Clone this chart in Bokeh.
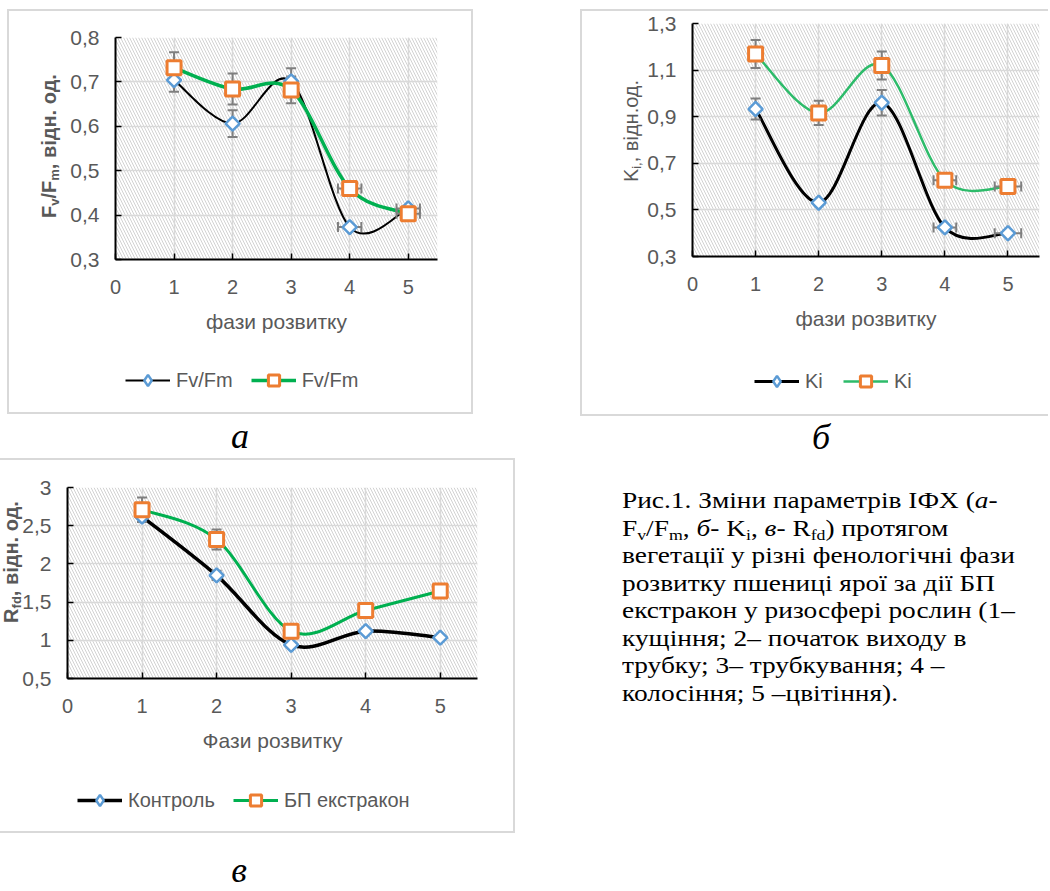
import math
from bokeh.plotting import figure
from bokeh.models import (FixedTicker, Range1d, Legend, LegendItem, GridBox,
                          BoxAnnotation, Div, Spacer, ColumnDataSource)
from bokeh.layouts import column, row
from bokeh.embed import file_html
from bokeh.resources import INLINE

# ---------------- data ----------------
phases = [1, 2, 3, 4, 5]
x_ticks = [0, 1, 2, 3, 4, 5]
x_tick_labels = ["0", "1", "2", "3", "4", "5"]

# panel а : Fv/Fm
a_ctrl = [0.704, 0.606, 0.701, 0.373, 0.415]
a_treat = [0.732, 0.684, 0.682, 0.460, 0.403]
a_ctrl_yerr = [0.026, 0.03, 0.03, 0.0, 0.0]
a_treat_yerr = [0.035, 0.035, 0.03, 0.0, 0.0]
a_ctrl_xerr = [0.0, 0.0, 0.0, 0.2, 0.2]
a_treat_xerr = [0.0, 0.0, 0.0, 0.2, 0.2]
a_yticks = [0.3, 0.4, 0.5, 0.6, 0.7, 0.8]
a_ytick_labels = ["0,3", "0,4", "0,5", "0,6", "0,7", "0,8"]
a_legend = ["Fv/Fm", "Fv/Fm"]
a_xlabel = "фази розвитку"
a_ylabel = "F<s1>v</s1>/F<s1>m</s1>, відн. од."

# panel б : Ki
b_ctrl = [0.933, 0.531, 0.960, 0.425, 0.400]
b_treat = [1.169, 0.916, 1.120, 0.627, 0.600]
b_ctrl_yerr = [0.045, 0.0, 0.055, 0.0, 0.0]
b_treat_yerr = [0.06, 0.052, 0.06, 0.0, 0.0]
b_ctrl_xerr = [0.0, 0.0, 0.0, 0.18, 0.21]
b_treat_xerr = [0.0, 0.0, 0.0, 0.18, 0.21]
b_yticks = [0.3, 0.5, 0.7, 0.9, 1.1, 1.3]
b_ytick_labels = ["0,3", "0,5", "0,7", "0,9", "1,1", "1,3"]
b_legend = ["Ki", "Ki"]
b_xlabel = "фази розвитку"
b_ylabel = "K<s1>i,</s1>, відн.од."

# panel в : Rfd
c_ctrl = [2.62, 1.85, 0.94, 1.12, 1.035]
c_treat = [2.71, 2.32, 1.12, 1.39, 1.645]
c_ctrl_yerr = [0.07, 0.06, 0.0, 0.0, 0.0]
c_treat_yerr = [0.16, 0.13, 0.0, 0.0, 0.0]
c_ctrl_xerr = [0.0, 0.0, 0.0, 0.0, 0.0]
c_treat_xerr = [0.0, 0.0, 0.0, 0.0, 0.0]
c_yticks = [0.5, 1.0, 1.5, 2.0, 2.5, 3.0]
c_ytick_labels = ["0,5", "1", "1,5", "2", "2,5", "3"]
c_legend = ["Контроль", "БП екстракон"]
c_xlabel = "Фази розвитку"
c_ylabel = "R<s1>fd</s1>, відн. од."

caption_lines = [
    "Рис.1. Зміни параметрів ІФХ (<i>а</i>-",
    "F<s1>v</s1>/F<s1>m</s1>, <i>б</i>- K<s1>i</s1>, <i>в</i>- R<s1>fd</s1>) протягом",
    "вегетації у різні фенологічні фази",
    "розвитку пшениці ярої за дії БП",
    "екстракон у ризосфері рослин (1–",
    "кущіння; 2– початок виходу в",
    "трубку; 3– трубкування; 4 –",
    "колосіння; 5 –цвітіння).",
]

# ---------------- helpers ----------------
FONT = "Liberation Sans"
GRAY = "#595959"
GRID = "#d9d9d9"
BLUE = "#5b9bd5"
ORANGE = "#ed7d31"
ERR = "#7f7f7f"
BORDER = "2px solid #d9d9d9"
SUB = '<span style="font-size:65%;vertical-align:-0.25em;line-height:0;">'


def subs(s):
    return s.replace("<s1>", SUB).replace("</s1>", "</span>")


def smooth(xs, ys):
    n = len(xs)
    d = dict(x0=[], y0=[], x1=[], y1=[], cx0=[], cy0=[], cx1=[], cy1=[])
    for i in range(n - 1):
        i0 = max(i - 1, 0)
        i3 = min(i + 2, n - 1)
        d["x0"].append(xs[i]); d["y0"].append(ys[i])
        d["x1"].append(xs[i + 1]); d["y1"].append(ys[i + 1])
        d["cx0"].append(xs[i] + (xs[i + 1] - xs[i0]) / 6)
        d["cy0"].append(ys[i] + (ys[i + 1] - ys[i0]) / 6)
        d["cx1"].append(xs[i + 1] - (xs[i3] - xs[i]) / 6)
        d["cy1"].append(ys[i + 1] - (ys[i3] - ys[i]) / 6)
    return ColumnDataSource(d)


def add_err(p, xs, ys, yerr, xerr):
    vx, vlo, vhi = [], [], []
    hy, hlo, hhi = [], [], []
    for x, y, ey, ex in zip(xs, ys, yerr, xerr):
        if ey > 0:
            vx.append(x); vlo.append(y - ey); vhi.append(y + ey)
        if ex > 0:
            hy.append(y); hlo.append(x - ex); hhi.append(x + ex)
    if vx:
        p.segment(x0=vx, y0=vlo, x1=vx, y1=vhi, line_color=ERR, line_width=2)
        p.scatter(x=vx + vx, y=vlo + vhi, marker="dash", size=10,
                  line_color=ERR, line_width=2)
    if hy:
        p.segment(x0=hlo, y0=hy, x1=hhi, y1=hy, line_color=ERR, line_width=2)
        p.scatter(x=hlo + hhi, y=hy + hy, marker="dash", angle=math.pi / 2,
                  size=10, line_color=ERR, line_width=2)


def draw_series(p, ctrl, treat, lw_ctrl, lw_treat, green):
    lc = p.bezier(x0="x0", y0="y0", x1="x1", y1="y1", cx0="cx0", cy0="cy0",
                  cx1="cx1", cy1="cy1", source=smooth(phases, ctrl),
                  line_color="black", line_width=lw_ctrl)
    lt = p.bezier(x0="x0", y0="y0", x1="x1", y1="y1", cx0="cx0", cy0="cy0",
                  cx1="cx1", cy1="cy1", source=smooth(phases, treat),
                  line_color=green, line_width=lw_treat)
    return lc, lt


def draw_markers(p, ctrl, treat, for_legend=False):
    if for_legend:
        sc = p.scatter(phases, ctrl, marker="diamond", size=10,
                       fill_color="white", line_color=BLUE, line_width=2.5)
    else:
        sc = p.scatter(phases, ctrl, marker="square", angle=math.pi / 4, size=10,
                       fill_color="white", line_color=BLUE, line_width=2.5)
    st = p.scatter(phases, treat, marker="square", size=14,
                   fill_color="white", line_color=ORANGE, line_width=3)
    return sc, st


def ylabel_div(html, w, h, cx, cy, bold):
    st = ("position:absolute;left:%dpx;top:%dpx;transform:translate(-50%%,-50%%) rotate(-90deg);"
          "white-space:nowrap;font-family:'Liberation Sans',sans-serif;font-size:20px;"
          "font-weight:%s;color:#595959;line-height:23px;" % (cx, cy, "bold" if bold else "normal"))
    return Div(text=('<div style="position:relative;width:%dpx;height:%dpx;">'
                     '<div style="%s">%s</div></div>' % (w, h, st, subs(html))),
               width=w, height=h, margin=0)


def make_fig(fw, fh, mb, yrange, yticks, ytick_labels, ctrl, treat,
             cyerr, tyerr, cxerr, txerr, xlabel, lw_ctrl, lw_treat, green, styles):
    p = figure(frame_width=fw, frame_height=fh,
               min_border_left=mb[0], min_border_right=mb[1],
               min_border_top=mb[2], min_border_bottom=mb[3],
               x_range=Range1d(0, 5.5), y_range=Range1d(*yrange),
               output_backend="svg", toolbar_location=None, tools="",
               outline_line_color=None, background_fill_color="white",
               border_fill_color="white", styles=styles)
    p.title.visible = False
    p.add_layout(BoxAnnotation(level="image", fill_color=None, line_color=None,
                               hatch_pattern="\\", hatch_scale=6,
                               hatch_color="#d2d2d2", hatch_weight=1))
    p.xaxis.ticker = FixedTicker(ticks=x_ticks)
    p.xaxis.major_label_overrides = dict(zip(x_ticks, x_tick_labels))
    p.yaxis.ticker = FixedTicker(ticks=yticks)
    p.yaxis.major_label_overrides = dict(zip(yticks, ytick_labels))
    for ax in (p.xaxis[0], p.yaxis[0]):
        ax.axis_line_color = "black"
        ax.axis_line_width = 2
        ax.major_tick_in = 6
        ax.major_tick_out = 0
        ax.major_tick_line_color = "black"
        ax.major_tick_line_width = 1.5
        ax.minor_tick_line_color = None
        ax.major_label_text_font = FONT
        ax.major_label_text_color = GRAY
    p.xaxis.major_label_text_font_size = "20px"
    p.yaxis.major_label_text_font_size = "21px"
    p.xaxis.major_label_standoff = 20
    p.yaxis.major_label_standoff = 16
    p.xaxis.axis_label = xlabel
    p.xaxis.axis_label_text_font = FONT
    p.xaxis.axis_label_text_font_size = "21px"
    p.xaxis.axis_label_text_font_style = "normal"
    p.xaxis.axis_label_text_color = GRAY
    p.xaxis.axis_label_standoff = 13
    p.xgrid.ticker = FixedTicker(ticks=phases)
    p.ygrid.ticker = FixedTicker(ticks=yticks)
    for g in (p.xgrid[0], p.ygrid[0]):
        g.grid_line_color = GRID
        g.grid_line_width = 1.5
    draw_series(p, ctrl, treat, lw_ctrl, lw_treat, green)
    add_err(p, phases, ctrl, cyerr, cxerr)
    add_err(p, phases, treat, tyerr, txerr)
    draw_markers(p, ctrl, treat)
    return p


def legend_fig(w, labels, ctrl, treat, lw_ctrl, lw_treat, green, margin):
    # small transparent canvas whose frame holds only the legend; the series
    # are drawn outside its visible range so that only the legend keys show
    lp = figure(width=w, height=28, x_range=Range1d(-20, -19),
                y_range=Range1d(-20, -19), output_backend="svg",
                toolbar_location=None, tools="", min_border=0,
                x_axis_type=None, y_axis_type=None, outline_line_color=None,
                background_fill_alpha=0, border_fill_alpha=0, margin=margin)
    lp.title.visible = False
    lp.grid.visible = False
    lc, lt = draw_series(lp, ctrl, treat, lw_ctrl, lw_treat, green)
    sc, st = draw_markers(lp, ctrl, treat, for_legend=True)
    leg = Legend(items=[LegendItem(label=labels[0], renderers=[lc, sc]),
                        LegendItem(label=labels[1], renderers=[lt, st])],
                 location="top_left", orientation="horizontal",
                 border_line_color=None, background_fill_alpha=0,
                 padding=0, margin=0, spacing=18, glyph_width=45,
                 glyph_height=28, label_standoff=6, label_text_font=FONT,
                 label_text_font_size="20px", label_text_color=GRAY)
    lp.add_layout(leg)
    return lp


# panel а  (page x=7, y=9; box 466 x 405)
fig_a = make_fig(318, 218, (106, 38, 26, 157), (0.3, 0.8), a_yticks,
                 a_ytick_labels, a_ctrl, a_treat, a_ctrl_yerr, a_treat_yerr,
                 a_ctrl_xerr, a_treat_xerr, a_xlabel, 2, 3.5, "#00b050",
                 {"border": BORDER})
lab_a = ylabel_div(a_ylabel, 90, 405, 42, 137, True)
leg_a = legend_fig(250, a_legend, a_ctrl, a_treat, 2, 3.5, "#00b050",
                   (-48, 0, 20, 118))
panel_a = column(GridBox(children=[(fig_a, 0, 0), (lab_a, 0, 0)]), leg_a)

# panel б  (page x=580, y=9; box 468 x 407)
fig_b = make_fig(345, 229, (110, 11, 12, 162), (0.3, 1.3), b_yticks,
                 b_ytick_labels, b_ctrl, b_treat, b_ctrl_yerr, b_treat_yerr,
                 b_ctrl_xerr, b_treat_xerr, b_xlabel, 3, 2.5, "#2dbb6a",
                 {"border-top": BORDER, "border-left": BORDER,
                  "border-bottom": BORDER})
lab_b = ylabel_div(b_ylabel, 95, 407, 51, 122, False)
leg_b = legend_fig(170, b_legend, b_ctrl, b_treat, 3, 2.5, "#2dbb6a",
                   (-49, 0, 21, 174))
panel_b = column(GridBox(children=[(fig_b, 0, 0), (lab_b, 0, 0)]), leg_b)

# panel в  (page x=0, y=458; box 515 x 375)
fig_c = make_fig(408, 187, (67, 38, 27, 157), (0.5, 3.0), c_yticks,
                 c_ytick_labels, c_ctrl, c_treat, c_ctrl_yerr, c_treat_yerr,
                 c_ctrl_xerr, c_treat_xerr, c_xlabel, 3.5, 3, "#00b050",
                 {"border-top": BORDER, "border-right": BORDER,
                  "border-bottom": BORDER})
lab_c = ylabel_div(c_ylabel, 40, 375, 11, 104, True)
leg_c = legend_fig(340, c_legend, c_ctrl, c_treat, 3.5, 3, "#00b050",
                   (-47, 0, 19, 77))
panel_c = column(GridBox(children=[(fig_c, 0, 0), (lab_c, 0, 0)]), leg_c)

LET = ("position:absolute;width:40px;text-align:center;font-family:'Liberation Serif',serif;"
       "font-style:italic;font-size:36px;")
letters = Div(text=(
    '<div style="position:relative;width:1040px;height:42px;">'
    f'<span style="{LET}line-height:36px;left:220px;top:2px;">а</span>'
    f'<span style="{LET}line-height:36px;left:801px;top:3px;">б</span>'
    '</div>'), width=1040, height=42, margin=0)

cap_html = "<br>".join(subs(s) for s in caption_lines)
caption = Div(text=(
    '<div style="font-family:\'Liberation Serif\',serif;font-size:24px;'
    'line-height:27.5px;color:#000;white-space:nowrap;transform:scaleX(1.14);'
    'transform-origin:left top;">' + cap_html + '</div>'),
    width=420, height=300, margin=(29, 0, 0, 107))

letter_c = Div(text=(
    '<div style="position:relative;width:520px;height:57px;">'
    f'<span style="{LET}line-height:40px;left:219px;top:17px;">в</span>'
    '</div>'), width=520, height=57, margin=0)

layout = column(Spacer(height=9),
                row(Spacer(width=7), panel_a, Spacer(width=107), panel_b),
                letters,
                row(panel_c, caption),
                letter_c)

open("out.html", "w").write(file_html(layout, INLINE))
